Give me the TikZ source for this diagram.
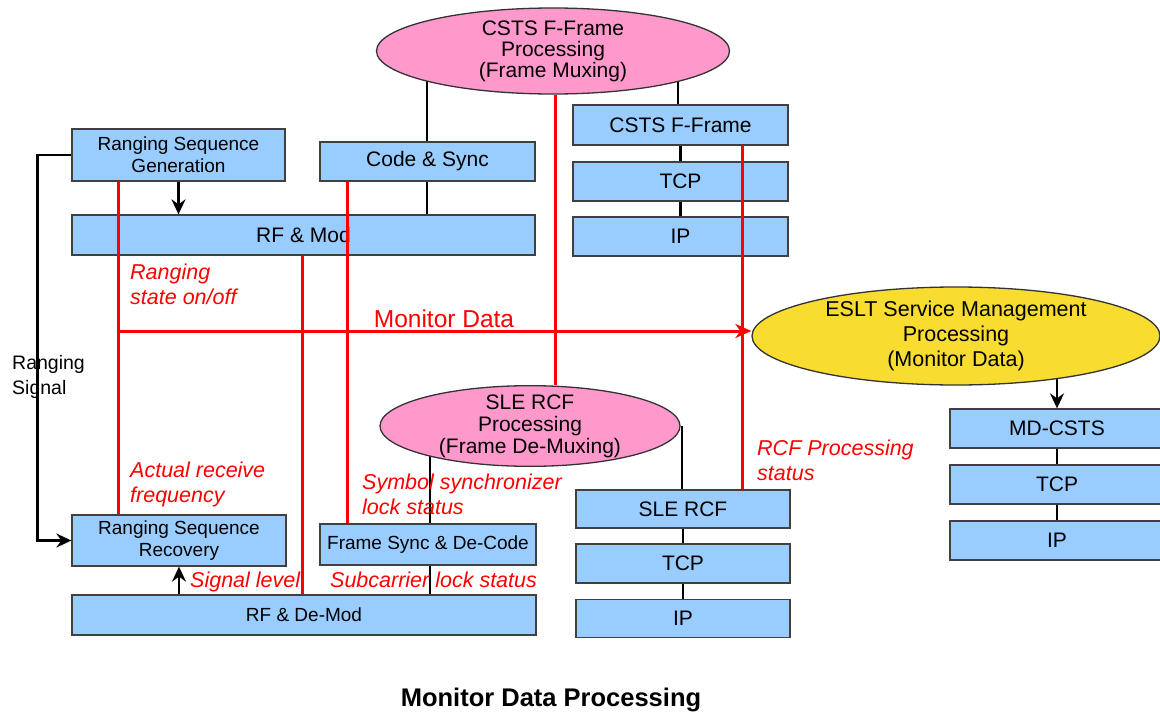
\documentclass[tikz,border=0pt]{standalone}
\usepackage{fontspec}
\setmainfont{Liberation Sans}
\usepackage{tikz}
\usetikzlibrary{arrows.meta,shapes.geometric}
\definecolor{boxblue}{RGB}{153,204,255}
\definecolor{ellpink}{RGB}{255,153,204}
\definecolor{ellyellow}{RGB}{249,220,48}
\pgfdeclarelayer{back}
\pgfsetlayers{back,main}

\begin{document}
\begin{tikzpicture}[x=1pt,y=-1pt,
	stackbox/.style={draw=black!75,fill=boxblue,line width=1.3pt,inner sep=0pt,align=center,font=\fontsize{21}{23}\selectfont},
	small/.style={font=\fontsize{19}{22}\selectfont},
	proc/.style={ellipse,draw=black!80,line width=1.3pt,inner sep=-3pt,align=center},
	link/.style={line width=2.3pt},
	arr/.style={-{Stealth[length=15pt,width=14pt,inset=5pt]}},
	sig/.style={red,line width=3pt},
	note/.style={red,inner sep=0pt,anchor=base west,align=left,font=\fontsize{21.5}{25}\selectfont\itshape}]
		\useasboundingbox (0,0) rectangle (1160,712);
		\coordinate (x_rng) at (118,0);
		\coordinate (x_lvl) at (302,0);
		\coordinate (x_sym) at (347,0);
		\coordinate (x_cs) at (427,0);
		\coordinate (x_fs) at (430,0);
		\coordinate (x_mux) at (555,0);
		\coordinate (x_ff) at (678,0);
		\coordinate (x_sle) at (682,0);
		\coordinate (x_rcf) at (742,0);
		\coordinate (md_start) at (118,331);

		\node[proc,fill=ellpink,minimum width=353,minimum height=86,font=\fontsize{21}{21}\selectfont] (fmux) at (553,51) {CSTS F-Frame\\Processing\\(Frame Muxing)};
		\node[proc,fill=ellpink,minimum width=300,minimum height=78,font=\fontsize{21}{22}\selectfont] (demux) at (530,426) {SLE RCF\\Processing\\(Frame De-Muxing)};
		\node[proc,fill=ellyellow,minimum width=408,minimum height=98,font=\fontsize{21.5}{25}\selectfont] (mgmt) at (956,336) {ESLT Service Management\\Processing\\(Monitor Data)};

		\node[stackbox,small,minimum width=213,minimum height=52] (rgen) at (178.5,155) {Ranging Sequence\\Generation};
		\node[stackbox,minimum width=215,minimum height=39] (code) at (427.5,161.5) {Code \& Sync};
		\node[stackbox,minimum width=463,minimum height=40] (mod) at (303.5,235) {RF \& Mod};
		\node[stackbox,minimum width=215,minimum height=40] (fframe) at (680.5,125) {CSTS F-Frame};
		\node[stackbox,minimum width=215,minimum height=39] (tcpa) at (680.5,181.5) {TCP};
		\node[stackbox,minimum width=215,minimum height=39] (ipa) at (680.5,236.5) {IP};
		\node[stackbox,small,minimum width=214,minimum height=51] (rrec) at (179,540.5) {Ranging Sequence\\Recovery};
		\node[stackbox,small,minimum width=216,minimum height=41] (fsync) at (428,544.5) {Frame Sync \& De-Code};
		\node[stackbox,small,minimum width=464,minimum height=40] (demod) at (304,615) {RF \& De-Mod};
		\node[stackbox,minimum width=214,minimum height=38] (rcf) at (683,509) {SLE RCF};
		\node[stackbox,minimum width=214,minimum height=39] (tcpb) at (683,563.5) {TCP};
		\node[stackbox,minimum width=214,minimum height=38] (ipb) at (683,618.5) {IP};
		\node[stackbox,minimum width=214,minimum height=39] (mdcsts) at (1057,428.5) {MD-CSTS};
		\node[stackbox,minimum width=214,minimum height=39] (tcpc) at (1057,484.5) {TCP};
		\node[stackbox,minimum width=214,minimum height=39] (ipc) at (1057,540.5) {IP};

		\begin{pgfonlayer}{back}
		\draw[link] (fmux.center -| x_cs) -- (code.north -| x_cs);
		\draw[link] (fmux.center -| x_ff) -- (fframe.north -| x_ff);
		\draw[link] (demux.center -| x_fs) -- (fsync.north -| x_fs);
		\draw[link] (demux.center -| x_sle) -- (rcf.north -| x_sle);
		\draw[link,arr] (mgmt.center -| mdcsts.north) -- (mdcsts.north);
		\end{pgfonlayer}

		\draw[link] (code.south -| x_cs) -- (mod.north -| x_cs);
		\draw[link] (fsync.south -| x_fs) -- (demod.north -| x_fs);
		\draw[link] (fframe.south) -- (tcpa.north);
		\draw[link] (tcpa.south) -- (ipa.north);
		\draw[link] (rcf.south) -- (tcpb.north);
		\draw[link] (tcpb.south) -- (ipb.north);
		\draw[link] (mdcsts.south) -- (tcpc.north);
		\draw[link] (tcpc.south) -- (ipc.north);
		\draw[link,arr] (rgen.south) -- (rgen.south |- mod.north);
		\draw[link,arr] (rrec.south |- demod.north) -- (rrec.south);
		\draw[link,arr] (rgen.west) -- ++(-34,0) |- (rrec.west);

		\draw[sig] (rgen.south -| x_rng) -- (rrec.north -| x_rng);
		\draw[sig] (mod.south -| x_lvl) -- (demod.north -| x_lvl);
		\draw[sig] (code.south -| x_sym) -- (fsync.north -| x_sym);
		\draw[sig] (fmux.south -| x_mux) -- (demux.north -| x_mux);
		\draw[sig] (fframe.south -| x_rcf) -- (rcf.north -| x_rcf);
		\draw[sig,-{Stealth[length=16pt,width=14pt,inset=5pt]}] (md_start) -- (md_start -| mgmt.west);

		\node[note] (lbl_state) at (130,304) {Ranging\\state on/off};
		\node[red,inner sep=0pt,anchor=base,font=\fontsize{24.5}{28}\selectfont] (lbl_md) at (444,327) {Monitor Data};
		\node[note] (lbl_freq) at (130,502) {Actual receive\\frequency};
		\node[note] (lbl_lvl) at (190,587) {Signal level};
		\node[note] (lbl_sym) at (362,514) {Symbol synchronizer\\lock status};
		\node[note] (lbl_sub) at (330,587) {Subcarrier lock status};
		\node[note] (lbl_rcf) at (757,480) {RCF Processing\\status};
		\node[inner sep=0pt,anchor=base west,align=left,font=\fontsize{19.5}{25}\selectfont] (lbl_rs) at (12,394) {Ranging\\Signal};
		\node[inner sep=0pt,anchor=base,font=\bfseries\fontsize{25.5}{30}\selectfont] (title) at (551,706) {Monitor Data Processing};
	\end{tikzpicture}
\end{document}
